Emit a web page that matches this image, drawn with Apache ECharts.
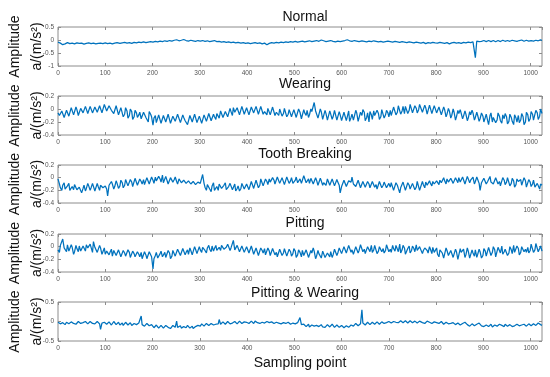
<!DOCTYPE html>
<html>
<head>
<meta charset="utf-8">
<script src="https://cdn.jsdelivr.net/npm/echarts@6/dist/echarts.min.js"></script>
<style>html,body{margin:0;padding:0;background:#fff}#c{width:550px;height:377px}</style>
</head>
<body>
<div id="c"></div>
<script>
const titles = ["Normal", "Wearing", "Tooth Breaking", "Pitting", "Pitting & Wearing"];
const xLabelName = "Sampling point";
const yLabelName = "Amplitude\na/(m/s²)";
const sampleCount = 1024;
const yMins = [-1, -0.4, -0.4, -0.4, -0.5];
const yMaxs = [0.5, 0.2, 0.2, 0.2, 0.5];
const yIntervals = [0.5, 0.2, 0.2, 0.2, 0.5];

// even-indexed readings
const normal = [
-0.08,-0.12,-0.18,-0.15,-0.1,-0.14,-0.12,-0.15,-0.11,-0.13,-0.12,-0.16,-0.13,-0.11,-0.14,-0.12,-0.15,-0.13,-0.12,-0.14,
-0.11,-0.14,-0.12,-0.15,-0.12,-0.1,-0.13,-0.11,-0.09,-0.12,-0.1,-0.13,-0.09,-0.11,-0.08,-0.1,-0.07,-0.1,-0.08,-0.06,
-0.08,-0.05,-0.07,-0.04,-0.06,-0.03,-0.05,-0.02,-0.04,-0.01,0.01,-0.03,-0.01,0.02,-0.02,-0.04,-0.01,-0.03,-0.05,-0.02,
-0.04,-0.02,-0.05,-0.03,-0.06,-0.04,-0.02,-0.06,-0.05,-0.08,-0.06,-0.09,-0.07,-0.1,-0.08,-0.11,-0.09,-0.12,-0.1,-0.13,
-0.11,-0.14,-0.12,-0.1,-0.13,-0.11,-0.15,-0.12,-0.18,-0.13,-0.1,-0.12,-0.09,-0.11,-0.08,-0.1,-0.07,-0.09,-0.06,-0.08,
-0.05,-0.08,-0.06,-0.04,-0.07,-0.05,-0.03,-0.06,-0.04,-0.02,-0.05,0,-0.03,-0.06,-0.04,-0.02,-0.05,-0.07,-0.04,-0.06,
-0.04,-0.02,0.01,-0.03,-0.05,-0.02,-0.04,-0.06,-0.03,-0.05,-0.07,-0.04,-0.06,-0.03,-0.05,-0.07,-0.05,-0.08,-0.06,-0.04,
-0.06,-0.08,-0.05,-0.07,-0.09,-0.06,-0.08,-0.1,-0.07,-0.09,-0.11,-0.08,-0.1,-0.12,-0.09,-0.14,-0.1,-0.12,-0.09,-0.11,
-0.12,-0.09,-0.11,-0.13,-0.1,-0.15,-0.11,-0.09,-0.12,-0.1,-0.13,-0.09,-0.11,-0.08,-0.1,-0.07,-0.68,-0.05,-0.03,-0.06,
-0.04,-0.06,-0.03,-0.05,-0.04,-0.06,-0.03,-0.05,-0.02,-0.04,-0.01,-0.03,-0.05,-0.02,0.01,-0.03,-0.01,-0.04,-0.02,-0.05,
-0.01,-0.03,0,-0.04,-0.02
];
// in-between readings
const normalMid = [
-0.14,-0.1,-0.2,-0.11,-0.16,-0.09,-0.17,-0.1,-0.15,-0.1,-0.14,-0.11,-0.15,-0.16,-0.1,-0.17,-0.11,-0.15,-0.16,-0.1,
-0.15,-0.1,-0.16,-0.1,-0.14,-0.12,-0.09,-0.14,-0.1,-0.13,-0.09,-0.11,-0.12,-0.08,-0.12,-0.08,-0.11,-0.07,-0.1,-0.08,
-0.04,-0.08,-0.03,-0.07,-0.02,-0.07,-0.01,-0.06,0.01,-0.04,-0.02,0.02,-0.04,-0.01,-0.05,0,-0.05,-0.02,-0.01,-0.05,
-0.01,-0.06,-0.02,-0.07,-0.02,-0.05,-0.07,-0.03,-0.09,-0.04,-0.1,-0.05,-0.09,-0.06,-0.12,-0.07,-0.13,-0.08,-0.12,-0.1,
-0.15,-0.1,-0.14,-0.12,-0.09,-0.16,-0.1,-0.14,-0.11,-0.08,-0.14,-0.1,-0.12,-0.07,-0.12,-0.06,-0.11,-0.05,-0.09,-0.05,
-0.09,-0.04,-0.07,-0.03,-0.08,-0.02,-0.07,-0.02,-0.06,-0.04,-0.02,-0.05,0.01,-0.03,-0.06,-0.03,-0.08,-0.03,-0.07,-0.03,
-0.06,0.02,-0.04,-0.01,-0.06,-0.03,-0.07,-0.02,-0.06,-0.03,-0.05,-0.07,-0.02,-0.07,-0.04,-0.04,-0.09,-0.04,-0.07,-0.05,
-0.09,-0.04,-0.08,-0.06,-0.05,-0.1,-0.06,-0.08,-0.11,-0.07,-0.09,-0.1,-0.13,-0.08,-0.11,-0.09,-0.13,-0.08,-0.12,-0.1,
-0.1,-0.13,-0.08,-0.11,-0.12,-0.09,-0.13,-0.12,-0.09,-0.14,-0.08,-0.12,-0.07,-0.12,-0.06,-0.09,-0.04,-0.06,-0.05,-0.02,
-0.06,-0.02,-0.06,-0.02,-0.07,-0.02,-0.06,-0.01,-0.05,-0.02,-0.05,-0.01,-0.03,-0.05,-0.02,0,-0.05,-0.01,-0.04,-0.02,
-0.04,-0.01,-0.03,0.01
];

const wearing = [
-0.06,-0.12,-0.04,-0.1,-0.05,-0.08,0.01,-0.06,-0.01,-0.07,0.02,-0.03,0.03,-0.05,0.01,-0.04,0.02,-0.02,0.04,-0.03,
0.06,-0.02,0.08,0.01,-0.04,0.03,-0.06,0,-0.08,-0.03,-0.1,-0.04,-0.12,-0.06,-0.09,-0.15,-0.05,-0.13,-0.2,-0.08,
-0.25,-0.1,-0.18,-0.12,-0.2,-0.13,-0.17,-0.1,-0.19,-0.14,-0.16,-0.11,-0.2,-0.13,-0.15,-0.21,-0.12,-0.17,-0.1,-0.18,
-0.13,-0.2,-0.11,-0.16,-0.09,-0.15,-0.12,-0.07,-0.14,-0.05,-0.11,-0.02,-0.09,-0.04,0.02,-0.08,-0.01,-0.06,0.03,-0.05,
-0.01,-0.07,0.05,-0.03,0.01,-0.06,0.02,-0.04,-0.09,-0.02,-0.06,0.01,-0.05,-0.1,-0.03,-0.07,-0.01,-0.08,-0.04,-0.09,
-0.03,-0.1,-0.05,-0.12,-0.06,-0.02,-0.09,-0.04,0.1,-0.06,-0.11,-0.04,-0.13,-0.07,-0.15,-0.08,-0.12,-0.05,-0.14,-0.09,
-0.16,-0.07,-0.12,-0.19,-0.08,-0.14,-0.06,-0.17,-0.1,-0.05,-0.13,-0.2,-0.09,-0.03,-0.11,-0.07,-0.12,-0.04,-0.09,-0.06,
-0.02,-0.08,0.01,-0.05,0.03,-0.03,-0.07,0.02,-0.02,0.05,-0.04,0.01,-0.01,0.06,-0.03,0.02,-0.05,0.04,-0.02,0.01,
-0.04,0.02,-0.06,-0.01,-0.08,-0.03,-0.1,-0.05,-0.12,-0.07,-0.04,-0.11,-0.08,-0.14,-0.09,-0.06,-0.13,-0.1,-0.15,-0.11,
-0.13,-0.18,-0.1,-0.2,-0.14,-0.17,-0.11,-0.22,-0.15,-0.12,-0.19,-0.13,-0.24,-0.14,-0.1,-0.17,-0.12,-0.2,-0.09,-0.15,
-0.08,-0.14,-0.06,-0.11,-0.07
];
const wearingMid = [
-0.1,-0.03,-0.13,-0.02,-0.11,0.02,-0.09,0.03,-0.1,0.01,-0.06,0.04,-0.07,0.04,-0.06,0.03,-0.05,0.05,-0.06,0.07,
-0.03,0.05,-0.02,-0.07,0.05,-0.09,0.02,-0.12,0.02,-0.14,0,-0.16,-0.02,-0.13,-0.05,-0.17,-0.02,-0.1,-0.04,-0.12,
-0.14,-0.21,-0.09,-0.22,-0.1,-0.2,-0.08,-0.22,-0.11,-0.19,-0.08,-0.21,-0.09,-0.18,-0.24,-0.1,-0.2,-0.08,-0.21,-0.11,
-0.22,-0.09,-0.19,-0.07,-0.18,-0.08,-0.16,-0.1,-0.03,-0.13,-0.04,-0.12,0.01,-0.1,-0.05,0.02,-0.09,0.04,-0.08,0.02,
-0.09,0.03,-0.06,0.04,-0.08,0.04,-0.08,-0.02,0.01,-0.09,0.03,-0.1,-0.02,0,-0.11,0.01,-0.12,-0.01,-0.12,-0.01,
-0.13,0,-0.15,-0.01,-0.1,-0.13,0,-0.02,-0.03,-0.14,0,-0.16,-0.02,-0.17,-0.03,-0.16,-0.02,-0.17,-0.04,-0.18,
-0.05,-0.18,-0.03,-0.13,-0.17,-0.02,-0.19,-0.05,-0.01,-0.18,-0.06,-0.04,-0.16,-0.1,-0.02,-0.16,-0.01,-0.14,-0.02,-0.12,
-0.1,0.03,-0.09,0.05,-0.08,0.04,0.04,-0.07,0.07,-0.06,0.05,-0.06,0.07,-0.05,0.06,-0.08,0.06,-0.07,0.05,-0.06,
0.03,-0.09,0.03,-0.12,0.01,-0.14,0,-0.17,-0.02,-0.01,-0.15,-0.03,-0.18,-0.04,-0.02,-0.17,-0.05,-0.19,-0.06,-0.2,
-0.08,-0.24,-0.06,-0.13,-0.21,-0.06,-0.18,-0.09,-0.07,-0.23,-0.08,-0.19,-0.09,-0.2,-0.21,-0.07,-0.24,-0.05,-0.19,-0.04,
-0.17,-0.02,-0.16,0
];

const toothBreaking = [
-0.02,-0.16,-0.12,-0.18,-0.13,-0.2,-0.14,-0.11,-0.19,-0.15,-0.24,-0.12,-0.17,-0.13,-0.16,-0.11,-0.18,-0.14,-0.12,-0.16,
-0.13,-0.29,-0.15,-0.1,-0.14,-0.09,-0.13,-0.08,-0.12,-0.06,-0.1,-0.07,-0.11,-0.04,-0.09,-0.06,-0.03,-0.08,-0.02,-0.07,
-0.04,0.01,-0.06,-0.02,0.04,-0.05,-0.01,-0.07,0.02,-0.03,-0.06,-0.02,-0.08,-0.04,-0.09,-0.05,-0.1,-0.06,-0.11,-0.07,
-0.09,0.05,-0.15,-0.11,-0.18,-0.13,-0.2,-0.14,-0.1,-0.17,-0.12,-0.19,-0.14,-0.11,-0.16,-0.21,-0.13,-0.17,-0.12,-0.15,
-0.11,-0.16,-0.09,-0.14,-0.07,-0.12,-0.05,-0.1,-0.06,-0.02,-0.09,-0.04,-0.08,-0.01,-0.06,-0.03,-0.08,-0.02,-0.05,-0.09,
-0.04,-0.08,-0.02,-0.06,0.02,-0.05,-0.09,-0.03,-0.07,-0.04,-0.1,-0.05,-0.08,-0.12,-0.06,-0.09,-0.04,-0.11,-0.07,-0.24,
-0.1,-0.06,-0.12,-0.03,0.01,-0.08,-0.11,-0.07,-0.13,-0.09,-0.12,-0.1,-0.14,-0.08,-0.11,-0.15,-0.09,-0.12,-0.1,-0.13,
-0.15,-0.11,-0.19,-0.12,-0.24,-0.14,-0.09,-0.17,-0.12,-0.21,-0.1,-0.15,-0.08,-0.18,-0.11,-0.07,-0.14,-0.09,-0.06,-0.12,
-0.07,-0.04,-0.09,-0.05,-0.02,-0.08,-0.04,-0.06,-0.03,0,-0.05,-0.02,-0.07,-0.01,-0.04,0.01,-0.06,-0.03,-0.2,-0.05,
-0.02,-0.06,0.02,-0.04,-0.08,-0.03,-0.06,-0.1,-0.04,-0.07,-0.02,-0.09,-0.05,-0.11,-0.06,-0.03,-0.09,-0.05,-0.12,-0.07,
-0.1,-0.15,-0.09,-0.18,-0.12
];
const toothBreakingMid = [
-0.1,-0.2,-0.08,-0.21,-0.09,-0.17,-0.19,-0.08,-0.22,-0.12,-0.17,-0.21,-0.09,-0.2,-0.09,-0.21,-0.09,-0.2,-0.09,-0.19,
-0.18,-0.12,-0.06,-0.18,-0.05,-0.17,-0.04,-0.16,-0.03,-0.13,-0.03,-0.14,-0.01,-0.12,-0.02,-0.1,-0.11,0,-0.1,0.01,
-0.09,-0.05,0.02,-0.07,-0.08,0.02,-0.1,0,-0.07,0.01,-0.1,0,-0.11,-0.01,-0.12,-0.02,-0.13,-0.03,-0.13,-0.05,
-0.12,-0.09,-0.2,-0.09,-0.22,-0.08,-0.17,-0.2,-0.07,-0.2,-0.08,-0.22,-0.09,-0.19,-0.1,-0.17,-0.21,-0.09,-0.18,-0.1,
-0.19,-0.06,-0.17,-0.04,-0.16,-0.02,-0.13,-0.02,-0.11,-0.07,0,-0.1,0.01,-0.09,0,-0.11,0.01,-0.09,0,-0.06,
0.01,-0.06,-0.09,0.03,-0.08,-0.02,-0.01,-0.1,0,-0.12,-0.01,-0.12,-0.05,-0.02,-0.12,-0.02,-0.13,-0.03,-0.12,-0.14,
-0.04,-0.14,-0.05,-0.07,-0.1,-0.14,-0.04,-0.16,-0.06,-0.15,-0.06,-0.16,-0.06,-0.15,-0.18,-0.06,-0.16,-0.07,-0.16,-0.09,
-0.08,-0.2,-0.08,-0.17,-0.16,-0.07,-0.2,-0.08,-0.18,-0.09,-0.19,-0.06,-0.2,-0.06,-0.16,-0.12,-0.05,-0.13,-0.1,-0.05,
-0.11,-0.08,0,-0.1,-0.07,-0.01,-0.09,0,-0.08,-0.07,0.01,-0.1,0.02,-0.08,-0.03,-0.1,0.01,-0.09,-0.08,-0.01,
-0.1,-0.03,-0.07,-0.1,0,-0.1,-0.13,0,-0.11,0,-0.13,-0.01,-0.15,-0.02,-0.09,-0.12,0,-0.15,-0.03,-0.14,
-0.04,-0.18,-0.07,-0.1
];

const pitting = [
-0.05,0.02,0.12,-0.04,0.03,-0.06,-0.01,-0.08,-0.03,0.01,-0.05,-0.02,0.03,-0.04,0.01,0.08,-0.03,-0.06,-0.02,-0.08,
-0.12,-0.05,-0.09,-0.15,-0.08,-0.11,-0.06,-0.13,-0.1,-0.17,-0.09,-0.14,-0.11,-0.18,-0.12,-0.09,-0.16,-0.13,-0.2,-0.11,
-0.35,-0.14,-0.18,-0.11,-0.16,-0.09,-0.14,-0.1,-0.15,-0.08,-0.12,-0.07,-0.11,-0.05,-0.09,-0.12,-0.06,-0.1,-0.04,-0.08,
-0.05,-0.01,-0.06,-0.02,-0.04,0.01,-0.03,-0.06,-0.01,0.02,-0.04,-0.01,0.03,-0.02,0.1,-0.03,0,-0.05,-0.02,-0.06,
-0.03,-0.07,-0.02,-0.09,-0.05,-0.11,-0.06,-0.03,-0.1,-0.07,-0.12,-0.05,-0.09,-0.13,-0.07,-0.1,-0.06,-0.12,-0.08,-0.11,
-0.07,-0.13,-0.09,-0.06,-0.12,-0.08,-0.14,-0.1,-0.07,-0.15,-0.11,-0.18,-0.09,-0.2,-0.12,-0.08,-0.13,-0.06,-0.1,-0.04,
-0.08,-0.03,-0.07,-0.01,-0.05,-0.09,-0.02,-0.06,0.01,-0.04,-0.08,-0.02,0.02,-0.05,-0.01,-0.07,0.03,-0.03,-0.06,0,
-0.04,0.02,-0.07,-0.01,0.04,-0.05,-0.02,-0.09,0.01,-0.06,-0.03,0.03,-0.08,-0.02,-0.06,0.01,-0.1,-0.04,-0.01,-0.07,
-0.12,-0.05,-0.1,-0.15,-0.06,-0.11,-0.03,-0.14,-0.08,-0.17,-0.09,-0.04,-0.13,-0.07,-0.16,-0.1,-0.05,-0.12,-0.08,-0.14,
-0.07,-0.12,-0.03,-0.09,-0.05,-0.13,-0.04,0.01,-0.08,-0.02,-0.1,-0.05,0.02,-0.07,-0.03,-0.09,0.03,-0.04,-0.01,-0.06,
0.02,-0.05,0.04,-0.03,-0.07
];
const pittingMid = [
-0.09,0.05,-0.02,-0.08,-0.07,0.03,-0.12,0.02,-0.08,-0.07,0.01,-0.07,-0.02,0.04,-0.09,-0.01,-0.09,0.02,-0.12,-0.02,
-0.07,-0.13,-0.04,-0.06,-0.14,-0.05,-0.16,-0.06,-0.15,-0.05,-0.17,-0.07,-0.16,-0.08,-0.16,-0.19,-0.08,-0.19,-0.08,-0.16,
-0.19,-0.09,-0.2,-0.07,-0.19,-0.17,-0.06,-0.19,-0.06,-0.15,-0.04,-0.14,-0.03,-0.13,-0.05,-0.02,-0.13,0,-0.11,0,
-0.09,0.02,-0.1,0.02,-0.08,-0.07,0.02,-0.05,-0.06,0.03,-0.07,0.04,-0.06,-0.01,-0.05,0.02,-0.08,0.01,-0.09,0,
-0.1,0.01,-0.12,-0.02,-0.14,-0.02,-0.1,-0.13,-0.02,-0.14,-0.03,-0.13,-0.16,-0.04,-0.14,-0.03,-0.15,-0.04,-0.15,-0.03,
-0.17,-0.05,-0.16,-0.14,-0.05,-0.17,-0.06,-0.02,-0.19,-0.06,-0.14,-0.07,-0.17,-0.1,-0.16,-0.17,-0.04,-0.14,-0.02,-0.11,
0,-0.1,0.02,-0.09,-0.12,0,-0.1,0.03,-0.08,-0.11,0,-0.08,-0.09,0.02,-0.11,0,-0.08,-0.1,0.03,-0.08,
-0.09,-0.03,0.02,-0.08,-0.1,0.02,-0.12,-0.03,-0.1,0.01,-0.08,-0.06,0,-0.11,-0.02,-0.06,0,-0.11,-0.09,-0.02,
-0.16,-0.02,-0.18,-0.02,-0.14,-0.06,-0.17,-0.04,-0.2,-0.03,-0.12,-0.17,-0.02,-0.18,-0.05,-0.15,-0.17,-0.04,-0.18,-0.03,
-0.15,-0.01,-0.14,0,-0.16,-0.01,-0.1,-0.12,-0.04,-0.14,0,-0.11,-0.09,0.01,-0.13,0,-0.08,-0.09,-0.1,0.04,
-0.09,0.05,-0.08,0.01
];

const pittingWearing = [
-0.02,-0.06,-0.03,-0.08,-0.01,-0.04,0.01,-0.03,-0.05,-0.02,0,-0.04,-0.01,-0.03,0.02,-0.02,-0.05,-0.03,-0.2,-0.07,
-0.04,-0.08,-0.03,-0.06,-0.02,-0.05,-0.09,-0.04,-0.07,-0.03,-0.06,-0.1,-0.05,-0.08,-0.04,0.14,-0.06,-0.1,-0.07,-0.12,
-0.1,-0.14,-0.11,-0.15,-0.12,-0.16,-0.13,-0.11,-0.15,-0.12,0.01,-0.14,-0.17,-0.13,-0.16,-0.12,-0.15,-0.18,-0.13,-0.1,
-0.12,-0.08,-0.1,-0.06,-0.09,-0.07,-0.04,-0.08,0.05,-0.05,-0.02,-0.06,-0.03,-0.01,-0.05,-0.02,-0.04,0,-0.03,-0.05,
-0.01,-0.04,-0.02,0.01,-0.03,-0.05,-0.02,-0.04,0,-0.03,-0.01,-0.05,-0.02,-0.04,-0.06,-0.03,-0.05,-0.02,-0.07,-0.04,
-0.06,-0.03,0.1,-0.12,-0.05,-0.1,-0.14,-0.09,-0.12,-0.1,-0.13,-0.08,-0.11,-0.14,-0.1,-0.12,-0.09,-0.13,-0.11,-0.14,
-0.12,-0.15,-0.1,-0.13,-0.08,-0.1,-0.06,-0.09,0.3,-0.05,-0.08,-0.04,-0.07,-0.03,-0.06,-0.02,-0.05,-0.03,0,-0.04,
-0.02,0.01,-0.03,0.02,-0.01,0.03,-0.02,0,-0.04,0.01,-0.02,0.02,-0.03,-0.01,0.01,-0.02,-0.04,0,-0.03,-0.05,
-0.02,-0.06,-0.03,-0.08,-0.04,-0.02,-0.07,-0.05,-0.09,-0.06,-0.1,-0.07,-0.04,-0.09,-0.11,-0.08,-0.12,-0.09,-0.06,-0.1,
-0.12,-0.08,-0.11,-0.14,-0.09,-0.12,-0.07,-0.1,-0.13,-0.09,-0.15,-0.1,-0.08,-0.12,-0.09,-0.06,-0.11,-0.08,-0.1,-0.07,
-0.09,-0.05,-0.08,-0.06,-0.1
];
const pittingWearingMid = [
-0.05,-0.01,-0.07,-0.02,-0.06,-0.01,-0.05,-0.07,0,-0.05,-0.03,0,-0.06,0,-0.05,-0.06,0,-0.06,-0.04,-0.02,
-0.07,-0.01,-0.09,0,-0.08,-0.02,-0.06,-0.1,-0.02,-0.09,-0.03,-0.07,-0.02,-0.1,-0.07,-0.08,-0.12,-0.05,-0.11,-0.08,
-0.16,-0.09,-0.17,-0.1,-0.17,-0.1,-0.15,-0.18,-0.1,-0.15,-0.15,-0.11,-0.14,-0.18,-0.1,-0.17,-0.12,-0.14,-0.16,-0.13,
-0.06,-0.12,-0.05,-0.1,-0.05,-0.09,-0.07,-0.06,-0.07,-0.01,-0.07,0,-0.06,-0.04,0,-0.06,0.01,-0.05,-0.01,-0.02,
-0.05,0.01,-0.05,-0.04,-0.01,-0.02,-0.06,0.01,-0.05,0,-0.04,-0.01,-0.06,-0.01,-0.02,-0.07,0,-0.05,-0.02,-0.07,
-0.02,-0.05,-0.08,-0.07,-0.13,-0.07,-0.11,-0.14,-0.08,-0.14,-0.09,-0.14,-0.15,-0.08,-0.14,-0.07,-0.15,-0.09,-0.15,-0.1,
-0.16,-0.11,-0.15,-0.09,-0.12,-0.05,-0.11,-0.06,-0.04,-0.09,-0.02,-0.08,-0.02,-0.07,-0.01,-0.07,-0.01,-0.05,-0.03,0,
-0.04,0,-0.02,-0.03,0.02,-0.03,0.02,-0.04,0.02,-0.03,0.01,-0.04,0.01,-0.03,-0.05,0.01,-0.02,-0.05,-0.01,-0.03,
-0.05,0,-0.07,-0.02,-0.06,-0.05,-0.03,-0.08,-0.04,-0.09,-0.05,-0.02,-0.08,-0.12,-0.06,-0.11,-0.07,-0.04,-0.11,-0.13,
-0.09,-0.13,-0.07,-0.11,-0.14,-0.08,-0.12,-0.14,-0.07,-0.12,-0.08,-0.13,-0.11,-0.07,-0.11,-0.09,-0.07,-0.12,-0.06,-0.11,
-0.06,-0.1,-0.04,-0.08
];

const seriesMain = [normal, wearing, toothBreaking, pitting, pittingWearing];
const seriesMid = [normalMid, wearingMid, toothBreakingMid, pittingMid, pittingWearingMid];

// layout (pixels)
const gridLeft = 58, gridRight = 8;
const gridTops = [27, 96, 165, 234, 302];
const gridHeights = [39, 39, 38, 38, 39];
const titleTops = [5, 72, 142, 211, 281];
const lineColor = '#0072BD';
const boxColor = '#8c8c8c';
const tickLabelColor = '#555';
const font = 'Liberation Sans, Arial, Helvetica, sans-serif';

function buildPairs(main, mid) {
  const vals = [];
  for (let i = 0; i < main.length; i++) {
    vals.push(main[i]);
    if (i < mid.length && i < main.length - 1) vals.push(mid[i]);
  }
  const n = vals.length;
  return vals.map((v, i) => [Math.round(i * sampleCount / (n - 1)), v]);
}

const option = {
  animation: false,
  backgroundColor: '#fff',
  title: [], grid: [], xAxis: [], yAxis: [], series: []
};

for (let p = 0; p < 5; p++) {
  option.title.push({
    text: titles[p], left: gridLeft + (550 - gridLeft - gridRight) / 2, top: titleTops[p], textAlign: 'center',
    textStyle: { fontSize: 14, fontWeight: 'normal', color: '#111', fontFamily: font }
  });
  option.grid.push({
    left: gridLeft, right: gridRight, top: gridTops[p], height: gridHeights[p],
    containLabel: false, outerBoundsMode: 'none',
    show: true, borderColor: boxColor, borderWidth: 1, backgroundColor: 'transparent'
  });
  const tick = { show: true, inside: true, length: 3, lineStyle: { color: boxColor, width: 1 } };
  const noLine = { show: false, onZero: false };
  const xb = {
    gridIndex: p, type: 'value', position: 'bottom', min: 0, max: sampleCount, interval: 100,
    axisLine: noLine, axisTick: tick, splitLine: { show: false },
    axisLabel: { fontSize: 6.5, color: tickLabelColor, margin: 4, showMaxLabel: false, fontFamily: font,
      formatter: v => String(v) }
  };
  if (p === 4) {
    xb.name = xLabelName;
    xb.nameLocation = 'middle';
    xb.nameGap = 15;
    xb.nameTextStyle = { fontSize: 14, color: '#111', fontFamily: font };
  }
  option.xAxis.push(xb);
  option.xAxis.push({
    gridIndex: p, type: 'value', position: 'top', min: 0, max: sampleCount, interval: 100,
    axisLine: noLine, axisTick: tick, splitLine: { show: false }, axisLabel: { show: false }
  });
  option.yAxis.push({
    gridIndex: p, type: 'value', position: 'left', min: yMins[p], max: yMaxs[p], interval: yIntervals[p],
    axisLine: noLine, axisTick: tick, splitLine: { show: false },
    axisLabel: { fontSize: 6.5, color: tickLabelColor, margin: 4, fontFamily: font },
    name: yLabelName, nameLocation: 'middle', nameRotate: 90, nameGap: 10, nameMoveOverlap: false,
    nameTextStyle: { fontSize: 14, lineHeight: 22, color: '#111', fontFamily: font, align: 'center' }
  });
  option.yAxis.push({
    gridIndex: p, type: 'value', position: 'right', min: yMins[p], max: yMaxs[p], interval: yIntervals[p],
    axisLine: noLine, axisTick: tick, splitLine: { show: false }, axisLabel: { show: false }
  });
  option.series.push({
    type: 'line', xAxisIndex: p * 2, yAxisIndex: p * 2, data: buildPairs(seriesMain[p], seriesMid[p]),
    showSymbol: false, symbol: 'none', lineStyle: { color: lineColor, width: 1.25 }, silent: true
  });
}

const chart = echarts.init(document.getElementById('c'), null, { renderer: 'canvas' });
chart.setOption(option);
</script>
</body>
</html>
